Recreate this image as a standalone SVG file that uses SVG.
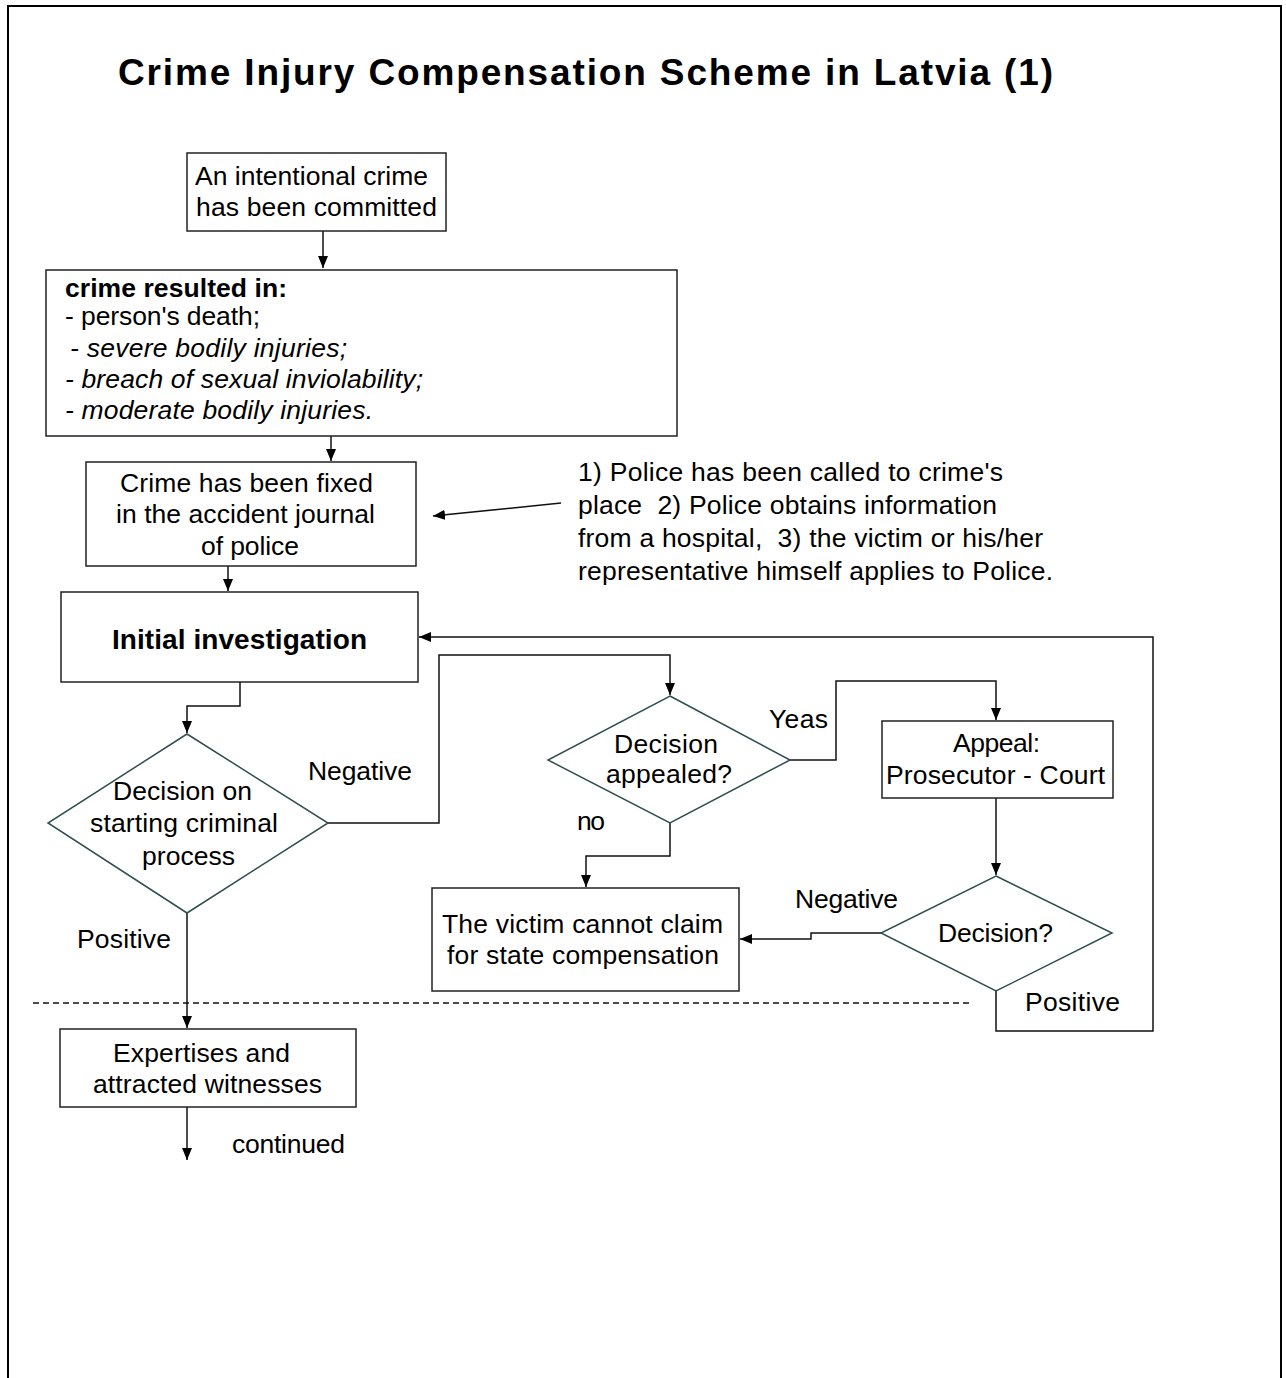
<svg xmlns="http://www.w3.org/2000/svg" width="1286" height="1378" viewBox="0 0 1286 1378">
<style>
  .t { font-family: "Liberation Sans", Arial, sans-serif; font-size: 26.5px; fill: #000; }
  .b { font-weight: bold; }
  .i { font-style: italic; }
  .pre { white-space: pre; }
  .title { font-size: 37px; }
  .big { font-size: 28px; }
  .box { fill: #fff; stroke: #222; stroke-width: 1.5; }
  .dia { fill: #fff; stroke: #2f4f4f; stroke-width: 1.5; }
  .con { fill: none; stroke: #111; stroke-width: 1.5; }
</style>
<defs>
  <marker id="ah" markerUnits="userSpaceOnUse" markerWidth="12" markerHeight="12" viewBox="0 0 12 12" refX="12" refY="6" orient="auto">
    <path d="M0,1 L12,6 L0,11 Z" fill="#000"/>
  </marker>
</defs>
<rect x="0" y="0" width="1286" height="1378" fill="#fff"/>
<path d="M8,1378 V6 H1281 V1378" fill="none" stroke="#000" stroke-width="2"/>

<text class="t b title" x="118" y="85" textLength="935" lengthAdjust="spacing">Crime Injury Compensation Scheme in Latvia (1)</text>

<g id="connectors">
  <path class="con" d="M323,231 V268" marker-end="url(#ah)"/>
  <path class="con" d="M331,436 V461" marker-end="url(#ah)"/>
  <path class="con" d="M228,566 V591" marker-end="url(#ah)"/>
  <path class="con" d="M561,503 L433,516" marker-end="url(#ah)"/>
  <path class="con" d="M240,682 V706 H187 V733" marker-end="url(#ah)"/>
  <path class="con" d="M328,823 H439 V655 H670 V695" marker-end="url(#ah)"/>
  <path class="con" d="M790,760 H836 V681 H996 V720" marker-end="url(#ah)"/>
  <path class="con" d="M996,798 V875" marker-end="url(#ah)"/>
  <path class="con" d="M881,933 H811 V939 H740" marker-end="url(#ah)"/>
  <path class="con" d="M670,823 V856 H586 V887" marker-end="url(#ah)"/>
  <path class="con" d="M996,991 V1031 H1153 V637 H419" marker-end="url(#ah)"/>
  <path class="con" d="M187,913 V1028" marker-end="url(#ah)"/>
  <path class="con" d="M187,1107 V1160" marker-end="url(#ah)"/>
  <path d="M33,1003 H970" fill="none" stroke="#111" stroke-width="1.3" stroke-dasharray="6 4"/>
</g>

<g id="node-crime">
  <rect class="box" x="187" y="153" width="259" height="78"/>
  <text class="t" x="195" y="185" textLength="233" lengthAdjust="spacing">An intentional crime</text>
  <text class="t" x="196" y="216" textLength="241" lengthAdjust="spacing">has been committed</text>
</g>

<g id="node-result">
  <rect class="box" x="46" y="270" width="631" height="166"/>
  <text class="t b" x="65" y="297" textLength="222" lengthAdjust="spacing">crime resulted in:</text>
  <text class="t" x="65" y="325" textLength="195" lengthAdjust="spacing">- person's death;</text>
  <text class="t i" x="70" y="357" textLength="277" lengthAdjust="spacing">- severe bodily injuries;</text>
  <text class="t i" x="65" y="388" textLength="358" lengthAdjust="spacing">- breach of sexual inviolability;</text>
  <text class="t i" x="65" y="419" textLength="308" lengthAdjust="spacing">- moderate bodily injuries.</text>
</g>

<g id="node-fixed">
  <rect class="box" x="86" y="462" width="330" height="104"/>
  <text class="t" x="120" y="492" textLength="253" lengthAdjust="spacing">Crime has been fixed</text>
  <text class="t" x="116" y="523" textLength="259" lengthAdjust="spacing">in the accident journal</text>
  <text class="t" x="201" y="555" textLength="98" lengthAdjust="spacing">of police</text>
</g>

<g id="note-police">
  <text class="t" x="578" y="481" textLength="425" lengthAdjust="spacing">1) Police has been called to crime's</text>
  <text class="t pre" x="578" y="514" textLength="419" lengthAdjust="spacing">place  2) Police obtains information</text>
  <text class="t pre" x="578" y="547" textLength="465" lengthAdjust="spacing">from a hospital,  3) the victim or his/her</text>
  <text class="t" x="578" y="580" textLength="475" lengthAdjust="spacing">representative himself applies to Police.</text>
</g>

<g id="node-initial">
  <rect class="box" x="61" y="592" width="357" height="90"/>
  <text class="t b big" x="112" y="649" textLength="255" lengthAdjust="spacing">Initial investigation</text>
</g>

<g id="node-decision1">
  <polygon class="dia" points="187,734 328,823 187,913 48,823"/>
  <text class="t" x="113" y="800" textLength="139" lengthAdjust="spacing">Decision on</text>
  <text class="t" x="90" y="832" textLength="188" lengthAdjust="spacing">starting criminal</text>
  <text class="t" x="142" y="865" textLength="93" lengthAdjust="spacing">process</text>
</g>

<g id="labels">
  <text class="t" x="308" y="780" textLength="104" lengthAdjust="spacing">Negative</text>
  <text class="t" x="77" y="948" textLength="94" lengthAdjust="spacing">Positive</text>
  <text class="t" x="769" y="728" textLength="59" lengthAdjust="spacing">Yeas</text>
  <text class="t" x="577" y="830" textLength="28" lengthAdjust="spacing">no</text>
  <text class="t" x="795" y="908" textLength="103" lengthAdjust="spacing">Negative</text>
  <text class="t" x="1025" y="1011" textLength="95" lengthAdjust="spacing">Positive</text>
  <text class="t" x="232" y="1153" textLength="113" lengthAdjust="spacing">continued</text>
</g>

<g id="node-decision2">
  <polygon class="dia" points="670,696 790,760 670,823 548,760"/>
  <text class="t" x="614" y="753" textLength="104" lengthAdjust="spacing">Decision</text>
  <text class="t" x="606" y="783" textLength="126" lengthAdjust="spacing">appealed?</text>
</g>

<g id="node-appeal">
  <rect class="box" x="882" y="721" width="231" height="77"/>
  <text class="t" x="953" y="752" textLength="87" lengthAdjust="spacing">Appeal:</text>
  <text class="t" x="886" y="784" textLength="219" lengthAdjust="spacing">Prosecutor - Court</text>
</g>

<g id="node-decision3">
  <polygon class="dia" points="996,876 1112,933 996,991 881,933"/>
  <text class="t" x="938" y="942" textLength="115" lengthAdjust="spacing">Decision?</text>
</g>

<g id="node-cannot">
  <rect class="box" x="432" y="888" width="307" height="103"/>
  <text class="t" x="442" y="933" textLength="281" lengthAdjust="spacing">The victim cannot claim</text>
  <text class="t" x="447" y="964" textLength="272" lengthAdjust="spacing">for state compensation</text>
</g>

<g id="node-expertises">
  <rect class="box" x="60" y="1029" width="296" height="78"/>
  <text class="t" x="113" y="1062" textLength="177" lengthAdjust="spacing">Expertises and</text>
  <text class="t" x="93" y="1093" textLength="229" lengthAdjust="spacing">attracted witnesses</text>
</g>
</svg>
